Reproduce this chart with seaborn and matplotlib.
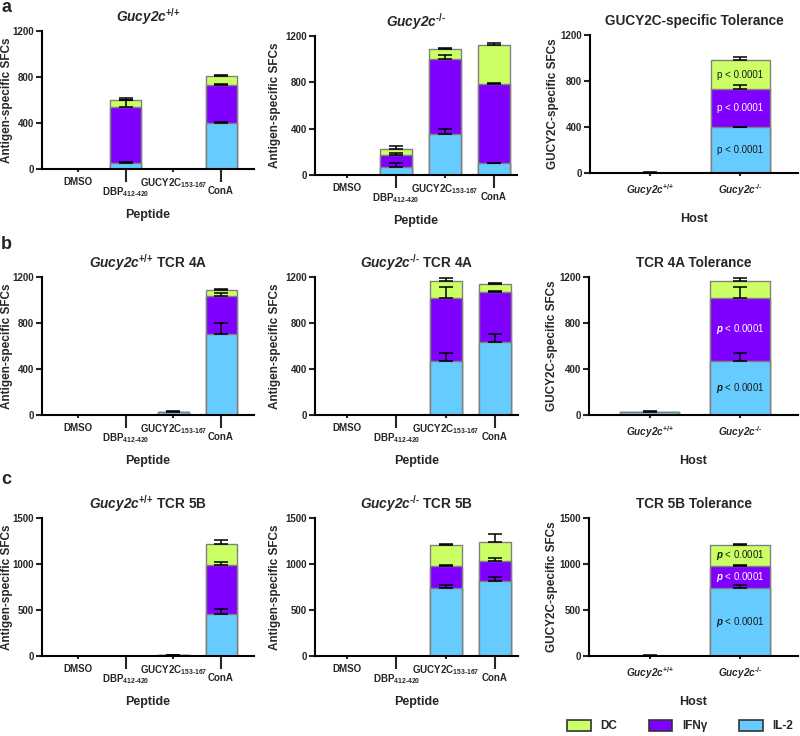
import numpy as np
import matplotlib
matplotlib.use("Agg")
import matplotlib.pyplot as plt
from matplotlib.patches import Patch
import seaborn as sns

sns.set_style("ticks")

base = "Liberation Sans"
plt.rcParams["font.family"] = [base, "DejaVu Sans"]
plt.rcParams["font.weight"] = "bold"
plt.rcParams["mathtext.fontset"] = "custom"
plt.rcParams["mathtext.rm"] = f"{base}:bold"
plt.rcParams["mathtext.bf"] = f"{base}:bold"
plt.rcParams["mathtext.it"] = f"{base}:italic"
plt.rcParams["mathtext.bfit"] = f"{base}:italic:bold"

# Data: segment heights (IL-2, IFNγ, DC) and upper error per segment
peptides = ["DMSO", r"DBP$_{\text{412-420}}$", r"GUCY2C$_{\text{153-167}}$", "ConA"]
hosts = ["Gucy2c+/+", "Gucy2c-/-"]
wt = r"$\mathbfit{Gucy2c}^{\text{+/+}}$"
ko = r"$\mathbfit{Gucy2c}^{\text{-/-}}$"
cytokines = ["IL-2", "IFNγ", "DC"]
colours = ["#66CCFF", "#8000FF", "#CCFF66"]

# row a
a1_vals = [[0, 52, 0, 400], [0, 486, 0, 329], [0, 64, 0, 81]]
a1_errs = [[0, 6, 0, 8], [0, 60, 0, 6], [0, 15, 0, 5]]
a2_vals = [[0, 66, 354, 104], [0, 104, 645, 679], [0, 57, 92, 342]]
a2_errs = [[0, 35, 40, 3], [0, 23, 40, 8], [0, 23, 8, 12]]
a3_vals = [[4, 396], [0, 333], [0, 254]]
a3_errs = [[2, 3], [0, 37], [0, 29]]
# row b
b1_vals = [[0, 0, 29, 708], [0, 0, 0, 327], [0, 0, 0, 55]]
b1_errs = [[0, 0, 4, 95], [0, 0, 0, 26], [0, 0, 0, 8]]
b2_vals = [[0, 0, 471, 636], [0, 0, 549, 433], [0, 0, 142, 73]]
b2_errs = [[0, 0, 72, 72], [0, 0, 93, 11], [0, 0, 29, 8]]
b3_vals = [[29, 471], [0, 549], [0, 142]]
b3_errs = [[4, 72], [0, 93], [0, 29]]
# row c
c1_vals = [[0, 0, 8, 452], [0, 0, 0, 542], [0, 0, 0, 228]]
c1_errs = [[0, 0, 3, 54], [0, 0, 0, 29], [0, 0, 0, 43]]
c2_vals = [[0, 0, 734, 817], [0, 0, 249, 220], [0, 0, 228, 206]]
c2_errs = [[0, 0, 36, 43], [0, 0, 7, 29], [0, 0, 7, 87]]
c3_vals = [[5, 734], [0, 249], [0, 228]]
c3_errs = [[3, 36], [0, 7], [0, 7]]

p_text = "p < 0.0001"
p_text_it = r"$\mathit{p}$ < 0.0001"

W, H = 800, 736
fig = plt.figure(figsize=(W / 100, H / 100), dpi=100)


def add_ax(l, r, t, b):
    return fig.add_axes([l / W, 1 - b / H, (r - l) / W, (b - t) / H])


def stacked(ax, cats, vals, errs, width):
    tops = np.cumsum(np.array(vals, dtype=float), axis=0)
    for top, col in zip(tops[::-1], colours[::-1]):
        sns.barplot(x=cats, y=top, order=cats, color=col, saturation=1,
                    width=width, edgecolor="#808080", linewidth=1,
                    errorbar=None, ax=ax)
    xs = np.arange(len(cats))
    for top, err in zip(tops, errs):
        err = np.array(err, dtype=float)
        m = err > 0
        ax.errorbar(xs[m], top[m], yerr=[np.zeros(m.sum()), err[m]], fmt="none",
                    ecolor="black", elinewidth=1.1, capsize=5, capthick=1.1, zorder=3)
    return tops


def style(ax, title, ylabel, xlabel, ymax, yticks, xlim, ylab_x):
    sns.despine(ax=ax)
    for s in ("left", "bottom"):
        ax.spines[s].set_linewidth(1.5)
        ax.spines[s].set_color("black")
    ax.set_ylim(0, ymax)
    ax.set_yticks(yticks)
    ax.set_xlim(*xlim)
    ax.tick_params(axis="y", length=4, width=1.5, labelsize=7, pad=2)
    ax.set_title(title, fontsize=9.8, fontweight="bold", pad=7)
    ax.set_ylabel(ylabel, fontsize=8.5, fontweight="bold")
    ax.yaxis.set_label_coords(ylab_x, 0.5)
    ax.set_xlabel(xlabel, fontsize=9, fontweight="bold")
    ax.xaxis.set_label_coords(0.5, -0.29)


def peptide_panel(box, title, vals, errs, ymax, yticks, xlim, ylab_x):
    ax = add_ax(*box)
    stacked(ax, peptides, vals, errs, 0.65)
    style(ax, title, "Antigen-specific SFCs", "Peptide", ymax, yticks, xlim, ylab_x)
    ax.set_xticks([0, 2])
    ax.set_xticklabels([peptides[0], peptides[2]])
    ax.set_xticks([1, 3], minor=True)
    ax.set_xticklabels([peptides[1], peptides[3]], minor=True)
    ax.tick_params(axis="x", which="major", length=2.5, width=1.5, pad=3, labelsize=7)
    ax.tick_params(axis="x", which="minor", length=9, width=1.5, pad=3, labelsize=7)
    return ax


def host_panel(box, title, vals, errs, ymax, yticks, notes):
    ax = add_ax(*box)
    tops = stacked(ax, hosts, vals, errs, 0.66)
    style(ax, title, "GUCY2C-specific SFCs", "Host", ymax, yticks, (-0.67, 1.64), -0.15)
    ax.set_xticks([0, 1])
    ax.set_xticklabels([wt, ko])
    ax.tick_params(axis="x", length=2.5, width=1.5, pad=4, labelsize=7.2)
    lows = np.vstack([np.zeros(len(hosts)), tops[:-1]])
    for i, (txt, col) in enumerate(notes):
        if txt is None:
            continue
        mid = (lows[i][1] + tops[i][1]) / 2
        ax.text(1, mid, txt, ha="center", va="center", fontsize=7,
                fontweight="normal", color=col)
    return ax


t1200 = [0, 400, 800, 1200]
t1500 = [0, 500, 1000, 1500]
col1 = (-0.75, 3.69)
col2 = (-0.65, 3.47)

# row a
peptide_panel((42, 254, 31, 169), wt, a1_vals, a1_errs, 1200, t1200, col1, -0.136)
peptide_panel((315, 517, 36, 175), ko, a2_vals, a2_errs, 1200, t1200, col2, -0.168)
host_panel((590, 798, 35, 173), "GUCY2C-specific Tolerance", a3_vals, a3_errs, 1200, t1200,
           [(p_text, "#1a1a1a"), (p_text, "white"), (p_text, "#1a1a1a")])

# row b
peptide_panel((42, 254, 277, 415), wt + " TCR 4A", b1_vals, b1_errs, 1200, t1200, col1, -0.136)
peptide_panel((315, 518, 277, 415), ko + " TCR 4A", b2_vals, b2_errs, 1200, t1200, col2, -0.168)
host_panel((589, 798, 277, 415), "TCR 4A Tolerance", b3_vals, b3_errs, 1200, t1200,
           [(p_text_it, "#1a1a1a"), (p_text_it, "white"), (None, None)])

# row c
peptide_panel((42, 254, 518, 656), wt + " TCR 5B", c1_vals, c1_errs, 1500, t1500, col1, -0.136)
peptide_panel((315, 518, 518, 656), ko + " TCR 5B", c2_vals, c2_errs, 1500, t1500, col2, -0.168)
host_panel((589, 798, 518, 656), "TCR 5B Tolerance", c3_vals, c3_errs, 1500, t1500,
           [(p_text_it, "#1a1a1a"), (p_text_it, "white"), (p_text_it, "#1a1a1a")])

# panel letters
for letter, y in (("a", 8), ("b", 245), ("c", 479)):
    fig.text(1 / W, 1 - y / H, letter, fontsize=13, fontweight="bold", va="center", ha="left")

# legend (DC, IFNγ, IL-2 left to right)
handles = [Patch(facecolor=c, edgecolor="#333333", linewidth=1.2, label=l)
           for c, l in zip(colours[::-1], cytokines[::-1])]
fig.legend(handles=handles, loc="center", bbox_to_anchor=(680 / W, 1 - 726 / H), ncol=3,
           frameon=False, fontsize=8.5, handlelength=2.0, handleheight=1.1,
           columnspacing=2.7, handletextpad=0.8)

fig.savefig("out.png", dpi=100)
